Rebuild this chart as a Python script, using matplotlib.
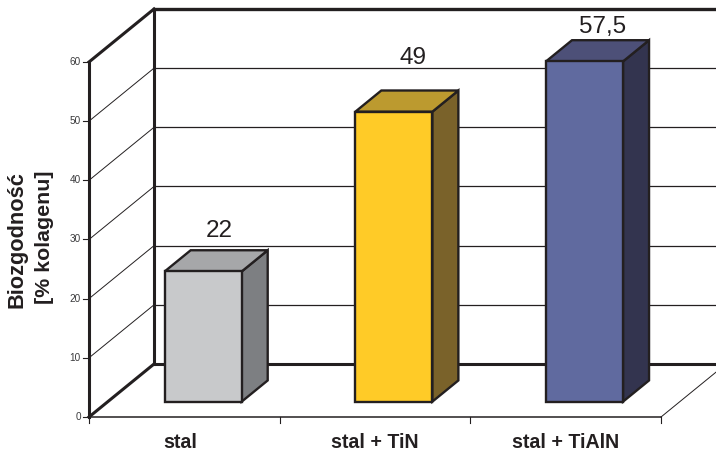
import matplotlib
matplotlib.use('Agg')
import matplotlib.pyplot as plt
from matplotlib.patches import Polygon

plt.rcParams['font.family'] = ['Liberation Sans', 'DejaVu Sans']

# data
categories = ['stal', 'stal + TiN', 'stal + TiAlN']
values = [22, 49, 57.5]
value_labels = ['22', '49', '57,5']
y_ticks = [0, 10, 20, 30, 40, 50, 60]
front_colors = ['#C8C9CB', '#FFCB27', '#606A9F']
top_colors = ['#A6A7A9', '#BC9A2F', '#4D5078']
side_colors = ['#7D7F82', '#7A622A', '#33344F']

# hand placement of the text around the bars
value_offsets = [(-10, -13.5), (-6.5, -26.5), (-7.5, -7)]
category_shift = [-4, 0, 0]

INK = '#231F20'
X0, Y0 = 89, 417      # front corner of the floor
CAT_W = 190.67        # width of a category
UNIT = 5.917          # pixels per percent
DX, DY = 65, 53       # oblique shift of the full depth
BAR_W = 0.404
D_FRONT, D_BACK = 0.29, 0.69
N = len(categories)


def proj(x, y, d=0.0):
    # oblique projection: category, value, depth -> canvas position
    return X0 + CAT_W * x + DX * d, Y0 - UNIT * y - DY * d


def line3d(p, q, lw, color=INK, z=2):
    a, b = proj(*p), proj(*q)
    ax.plot([a[0], b[0]], [a[1], b[1]], color=color, lw=lw, zorder=z,
            solid_capstyle='projecting', clip_on=True)


fig = plt.figure(figsize=(7.16, 4.53), dpi=100)
ax = fig.add_axes([0, 0, 1, 1])
ax.set_xlim(0, 716)
ax.set_ylim(453, 0)
ax.axis('off')

# grid on the back and side walls
for t in y_ticks[1:-1]:
    line3d((0, t, 0), (0, t, 1), 0.7)
    line3d((0, t, 1), (3.4, t, 1), 0.9)

# walls and floor outline
top = y_ticks[-1]
line3d((0, 0, 0), (0, top, 0), 2.2, z=3)
line3d((0, top, 0), (0, top, 1), 2.2, z=3)
line3d((0, 0, 1), (0, top, 1), 2.2, z=3)
line3d((0, top, 1), (3.4, top, 1), 2.4, z=3)
line3d((0, 0, 0), (0, 0, 1), 2.2, z=3)
line3d((0, 0, 1), (3.4, 0, 1), 2.2, z=3)
line3d((0, 0, 0), (N, 0, 0), 1.1, z=3)
line3d((N, 0, 0), (N, 0, 1), 0.7, z=3)

# ticks
for t in y_ticks:
    px, py = proj(0, t)
    ax.plot([px - 6, px], [py, py], color=INK, lw=0.8, zorder=3)
    ax.text(px - 8, py, str(t), ha='right', va='center', fontsize=7.2, color='#3A3A3C')
for i in range(N + 1):
    px, py = proj(i, 0)
    ax.plot([px, px], [py, py + 6], color=INK, lw=0.8, zorder=3)

# bars
for i, v in enumerate(values):
    l = i + 0.5 - BAR_W / 2
    r = i + 0.5 + BAR_W / 2
    front = [proj(l, 0, D_FRONT), proj(r, 0, D_FRONT), proj(r, v, D_FRONT), proj(l, v, D_FRONT)]
    side = [proj(r, 0, D_FRONT), proj(r, 0, D_BACK), proj(r, v, D_BACK), proj(r, v, D_FRONT)]
    cap = [proj(l, v, D_FRONT), proj(r, v, D_FRONT), proj(r, v, D_BACK), proj(l, v, D_BACK)]
    for pts, col in zip((side, cap, front), (side_colors[i], top_colors[i], front_colors[i])):
        ax.add_patch(Polygon(pts, closed=True, facecolor=col, edgecolor=INK,
                             lw=1.7, joinstyle='miter', zorder=4))
    cx, cy = proj(i + 0.5, v, D_BACK)
    ax.text(cx + value_offsets[i][0], cy + value_offsets[i][1], value_labels[i],
            ha='center', va='baseline', fontsize=17.5, color=INK, zorder=5)
    lx, ly = proj(i + 0.5, 0)
    ax.text(lx + category_shift[i], 448.5, categories[i], ha='center', va='baseline',
            fontsize=14.1, fontweight='bold', color=INK)

ax.text(17.5, 240, 'Biozgodność', rotation=90, ha='center', va='center',
        fontsize=15.7, fontweight='bold', color=INK)
ax.text(45, 237, '[% kolagenu]', rotation=90, ha='center', va='center',
        fontsize=15.4, fontweight='bold', color=INK)

plt.savefig('out.png', dpi=100)
